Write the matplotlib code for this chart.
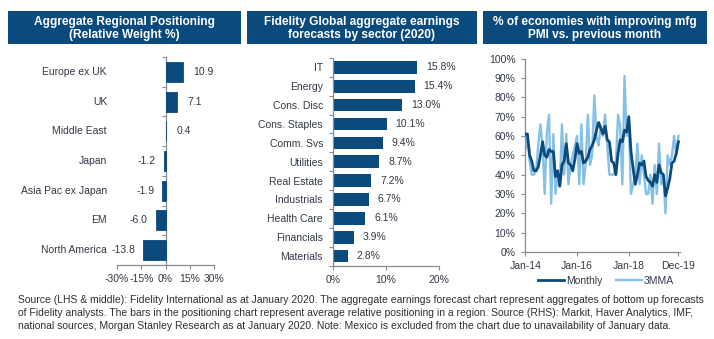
import matplotlib
matplotlib.use("Agg")
import matplotlib.pyplot as plt
import matplotlib.transforms as mtransforms
from matplotlib.patches import Rectangle
from matplotlib import font_manager
import numpy as np

# ---------------- data ----------------
regions = ["Europe ex UK", "UK", "Middle East", "Japan", "Asia Pac ex Japan", "EM", "North America"]
region_weights = [10.9, 7.1, 0.4, -1.2, -1.9, -6.0, -13.8]
region_ticks = [-30, -15, 0, 15, 30]

sectors = ["IT", "Energy", "Cons. Disc", "Cons. Staples", "Comm. Svs", "Utilities",
           "Real Estate", "Industrials", "Health Care", "Financials", "Materials"]
sector_growth = [15.8, 15.4, 13.0, 10.1, 9.4, 8.7, 7.2, 6.7, 6.1, 3.9, 2.8]
sector_ticks = [0, 10, 20]

pmi_monthly = [61, 61, 50, 47, 42, 42, 44, 50, 57, 50, 49, 53,
               52, 52, 39, 42, 34, 45, 47, 56, 46, 45, 42, 48,
               56, 51, 52, 46, 47, 49, 53, 55, 58, 63, 67, 64,
               61, 65, 58, 57, 47, 46, 40, 51, 58, 57, 63, 62,
               70, 52, 43, 35, 40, 46, 45, 47, 39, 37, 36, 34,
               40, 36, 45, 41, 40, 29, 33, 38, 46, 47, 51, 57]
pmi_3mma = [53, 60, 47, 40, 40, 42, 55, 66, 55, 30, 62, 71,
            25, 61, 30, 40, 35, 66, 40, 61, 35, 45, 50, 55,
            60, 35, 66, 35, 45, 71, 45, 50, 81, 60, 55, 65,
            60, 71, 55, 40, 40, 40, 45, 71, 65, 35, 91, 60,
            65, 30, 35, 40, 56, 35, 50, 40, 30, 30, 40, 25,
            45, 30, 56, 35, 40, 20, 50, 45, 50, 60, 50, 60]
pmi_tick_pos = [0, 24, 48, 71]
pmi_tick_labels = ["Jan-14", "Jan-16", "Jan-18", "Dec-19"]
pmi_yticks = list(range(0, 101, 10))

titles = ["Aggregate Regional Positioning\n(Relative Weight %)",
          "Fidelity Global aggregate earnings\nforecasts by sector (2020)",
          "% of economies with improving mfg\nPMI vs. previous month"]

footnote = [
    "Source (LHS & middle): Fidelity International as at January 2020. The aggregate earnings forecast chart represent aggregates of bottom up forecasts",
    "of Fidelity analysts. The bars in the positioning chart represent average relative positioning in a region. Source (RHS): Markit, Haver Analytics, IMF,",
    "national sources, Morgan Stanley Research as at January 2020. Note: Mexico is excluded from the chart due to unavailability of January data.",
]

# ---------------- style ----------------
W, H = 714, 339
DARK = "#0b4a7c"
LIGHT = "#85c0e6"
TXT = "#323845"
SPINE = "#878c95"
FS = 7.5

plt.rcParams["font.family"] = ["Liberation Sans", "DejaVu Sans"]
plt.rcParams["text.color"] = TXT
plt.rcParams["xtick.color"] = SPINE
plt.rcParams["ytick.color"] = SPINE
plt.rcParams["xtick.labelcolor"] = TXT
plt.rcParams["ytick.labelcolor"] = TXT

fig = plt.figure(figsize=(W / 100, H / 100), dpi=100)
fig.patch.set_facecolor("white")


def px_axes(x0, x1, y0, y1):
    """Axes from pixel box (x0..x1 left-right, y0..y1 top-bottom)."""
    return fig.add_axes([x0 / W, 1 - y1 / H, (x1 - x0) / W, (y1 - y0) / H])


def style_spines(ax):
    for s in ["top", "right"]:
        ax.spines[s].set_visible(False)
    for s in ["left", "bottom"]:
        ax.spines[s].set_color(SPINE)
        ax.spines[s].set_linewidth(0.9)
    ax.tick_params(labelsize=FS, length=3, width=0.8)


# ---------------- header boxes ----------------
boxes = [(8, 241), (247, 477), (483, 707)]
for (bx0, bx1), title in zip(boxes, titles):
    fig.patches.append(Rectangle((bx0 / W, 1 - 44 / H), (bx1 - bx0) / W, 33 / H,
                                 transform=fig.transFigure, facecolor=DARK,
                                 edgecolor="none", zorder=0))
    fig.text((bx0 + bx1) / 2 / W, 1 - 28.3 / H, title, ha="center", va="center",
             color="white", fontsize=8.6, fontweight="bold", linespacing=1.1)

# ---------------- panel 1: regional positioning ----------------
ax1 = px_axes(117, 214, 57, 265)
y1 = np.arange(len(regions))
ax1.barh(y1, region_weights, height=0.67, color=DARK, edgecolor=DARK,
         linewidth=0.6, zorder=3)
ax1.set_xlim(-30, 30)
ax1.set_ylim(len(regions) - 0.5, -0.5)
style_spines(ax1)
ax1.spines["left"].set_position(("data", 0))
ax1.spines["left"].set_zorder(2)
ax1.set_xticks(region_ticks)
ax1.set_xticklabels([f"{t}%" for t in region_ticks])
ax1.set_yticks(np.arange(-0.5, len(regions), 1.0))
ax1.set_yticklabels([])
lab_tr = mtransforms.offset_copy(
    mtransforms.blended_transform_factory(ax1.transAxes, ax1.transData),
    fig=fig, x=-10, y=0, units="dots")
for yy, name in zip(y1, regions):
    ax1.text(0, yy, name, transform=lab_tr, ha="right", va="center", fontsize=FS)
for yy, v in zip(y1, region_weights):
    off = 10 if v >= 0 else -8
    tr = mtransforms.offset_copy(ax1.transData, fig=fig, x=off, y=0, units="dots")
    ax1.text(v, yy, f"{v:.1f}", transform=tr, ha="left" if v >= 0 else "right",
             va="center", fontsize=FS)

# ---------------- panel 2: sector earnings ----------------
ax2 = px_axes(333, 439, 58, 265.5)
y2 = np.arange(len(sectors))
ax2.barh(y2, sector_growth, height=0.67, color=DARK)
ax2.set_xlim(0, 20)
ax2.set_ylim(len(sectors) - 0.5, -0.5)
style_spines(ax2)
ax2.set_xticks(sector_ticks)
ax2.set_xticklabels([f"{t}%" for t in sector_ticks])
ax2.set_yticks(y2)
ax2.set_yticklabels(sectors)
ax2.tick_params(axis="y", which="major", length=0, pad=7.2)
ax2.set_yticks(np.arange(-0.5, len(sectors), 1.0), minor=True)
ax2.tick_params(axis="y", which="minor", length=3, width=0.8, color=SPINE)
for yy, v in zip(y2, sector_growth):
    tr = mtransforms.offset_copy(ax2.transData, fig=fig, x=9, y=0, units="dots")
    ax2.text(v, yy, f"{v:.1f}%", transform=tr, ha="left", va="center", fontsize=FS)

# ---------------- panel 3: PMI line chart ----------------
ax3 = px_axes(525.3, 679.5, 58.6, 252)
xm = np.arange(len(pmi_monthly))
l_light, = ax3.plot(xm, pmi_3mma, color=LIGHT, lw=1.7, zorder=2)
l_dark, = ax3.plot(xm, pmi_monthly, color=DARK, lw=2.0, zorder=3)
ax3.set_xlim(0, 71.5)
ax3.set_ylim(0, 100)
style_spines(ax3)
ax3.set_yticks(pmi_yticks)
ax3.set_yticklabels([f"{t}%" for t in pmi_yticks])
ax3.set_xticks(pmi_tick_pos)
ax3.set_xticklabels(pmi_tick_labels)
ax3.tick_params(axis="y", pad=4)
leg = fig.legend([l_dark, l_light], ["Monthly", "3MMA"], loc="center",
                 bbox_to_anchor=(606 / W, 1 - 281 / H), ncol=2, frameon=False,
                 fontsize=FS, handlelength=2.5, handletextpad=0.2,
                 columnspacing=1.3, borderaxespad=0, borderpad=0)
for t in leg.get_texts():
    t.set_color(TXT)

# ---------------- footnote ----------------
foot_family = ["Liberation Sans"]
try:
    font_manager.findfont(font_manager.FontProperties(family="Liberation Sans Narrow"),
                          fallback_to_default=False)
    foot_family = ["Liberation Sans Narrow", "Liberation Sans"]
except Exception:
    pass

foot_texts = []
for i, line in enumerate(footnote):
    foot_texts.append(fig.text(18 / W, 1 - (300 + 13 * i) / H, line, ha="left",
                               va="center", fontsize=7.0, color="#2e2e2e",
                               family=foot_family))
# size the footnote so its first line spans the full width of the panels
renderer = fig.canvas.get_renderer()
w0 = foot_texts[0].get_window_extent(renderer).width
scale = 686.0 / w0
for t in foot_texts:
    t.set_fontsize(7.0 * scale)

fig.savefig("out.png", dpi=100, facecolor="white")
